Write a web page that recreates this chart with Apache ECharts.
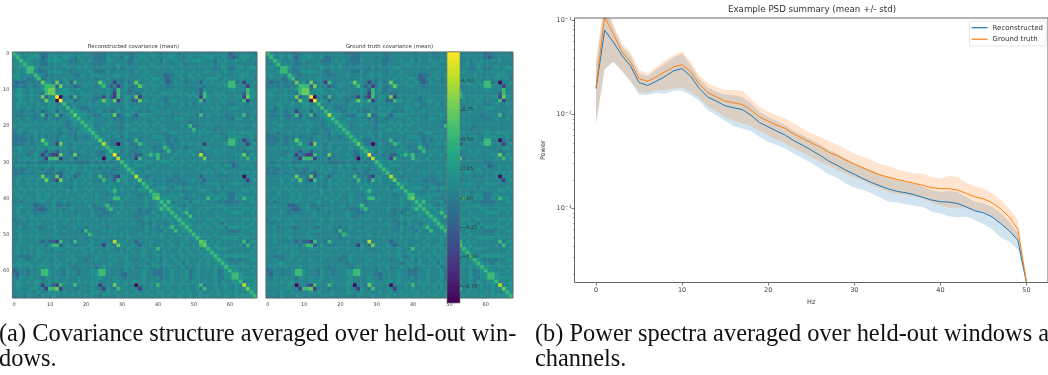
<!DOCTYPE html>
<html>
<head>
<meta charset="utf-8">
<style>
  html, body { margin: 0; padding: 0; background: #fff; overflow: hidden; }
  #chart { width: 1048px; height: 375px; }
</style>
<script src="https://cdn.jsdelivr.net/npm/echarts@6/dist/echarts.min.js"></script>
</head>
<body>
<div id="chart"></div>
<script>
// covariance cells: lower triangle, one digit per cell (index into levelValues)
const levelValues = [-0.85, -0.5, -0.22, -0.05, 0.07, 0.19, 0.55, 0.75, 1.0, 1.22];

const reconRows = [
  "6", "56", "456", "5456", "45556", "454566", "5544546", "45443356",
  "32334343 7", "33434434 56", "45544544 567", "45544544 3677",
  "45544544 72459", "44544544 375509", "45454445 4455 446", "45445444 5455 4546",
  "44344344 244525 446", "43344434 624462 4557", "45445434 435434 44556", "44544454 444545 434556",
  "54455444 454454 4345456", "44544544 544544 54344556", "34434454 444443 444354556", "33344353 534434 5443443456",
  "33334344 754435 445 3 444445 7", "33344344 564417 4435 444544 58",
  "45544545 445555 5445 445445 456", "44544344 424424 4434 454444 3356",
  "54443454 142117 4437 344454 33559", "44455454 416661 4452 444445 405538",
  "43443443 334434 4343 333343 4343446", "45454454 555455 5545 445455 45454456",
  "34334444 343354 4545 445444 344434456", "33344344 433432 4454 344544 4343444456",
  "44544544 744372 4542 454544 6434215544 8", "45445445 474317 4435 445444 36442645445 7",
  "4544545445 4545444545 4544454544 4544 446", "4454454544 5445443544 5454445454 5445 3456",
  "5445445454 4544454544 4544444564 5444 45546", "4545444545 5445454454 5445443454 4454 434456",
  "4454544545 4454445445 4445444466 4544 4445467", "3434444454 4544544454 5445444344 5444 44454456",
  "4454442334 4533434444 4534456444 5444 444544556", "4544443223 4544345444 4443335644 5445 4344345656",
  "4544543434 4545444344 4454433445 4544 43434544556", "4454454454 5445444454 4454344454 5444 344544545456",
  "3445445444 4544454454 4445444544 4544 4345454445456", "4344454544 4444544454 5444454444 5445 44343544345456",
  "4453444334 4544344544 3445443454 4444 4435443545 6 4556", "4544445444 4454544443 6444454544 4544 44454443544 64556",
  "4454454544 4544344444 3654444454 5444 45444545444454456", "4454445444 4454444344 3444454444 4454 444544454454445456",
  "4454444424 2216443644 4454444384 4544 2444544445444454457", "4544454453 5662454344 4544415437 5445 42445445445445445467",
  "4544454544 4455444545 4454445443 4454 445444 6 44544545445456", "4545444554 4444454444 5444544444 5445 4454454454445445445456",
  "4433344544 4544445444 4345444544 4544 44543454445445445445456", "4454345445 4454454544 3445444454 4544 344544535445445444545456",
  "4545544454 4545444444 4434444544 4454 4443454454445354454454456", "4454454545 4454444344 4443454444 4545 34454453454445344544545456",
  "2344344466 5444354434 4455664444 3544 445443334454445345444453456", "3244344466 5444354434 4455664444 3244 4454433344544453454444534556",
  "4354454435 4454454454 4445544454 4344 44544453445444534544445435566", "4544545544 5454544454 5455444455 4545 545445445454454454454453544556",
  "4554445414 4216444644 4454144374 4544 044454644544545445 6 34454454454 8", "4544455441 6671444344 4454315436 5445 414454544544545445 36 4454454454 57",
  "4444544544 5454544454 4455445454 4544 544544554454454544544545445454456", "3443544354 4544445444 5444354445 4445 4544544545445445445454454544555556"
];

const truthRows = [
  "6", "56", "446", "4456", "45446", "444566", "4544546", "34443356",
  "32334343 7", "34434434 46", "44544544 567", "45444544 3677",
  "45444544 72359", "44444544 375409", "44454445 4455 446", "45345444 4455 4546",
  "43344344 144525 446", "43344334 624462 4558", "44445434 435434 44556", "44544444 444544 434556",
  "44455444 454454 4345456", "44544444 544544 44344556", "34434454 444443 444354556", "33344343 534434 5443443456",
  "33334344 754435 445 3 444445 6", "33344344 564417 4435 444444 57",
  "44544545 445555 5445 445445 456", "44444344 424424 4434 454444 3356",
  "44443454 142116 4437 344454 33559", "44445454 416661 4452 444445 404538",
  "43443443 334434 4343 333343 4343446", "44454454 555455 4545 445455 45454456",
  "34334444 343354 4545 445444 344434456", "33344344 433432 4454 344544 4343444456",
  "44444544 744372 4542 454544 6434215544 8", "44445445 474316 4435 445444 36442645445 7",
  "4444545445 4445444545 4544454544 4544 446", "4454454544 4445443544 5454445454 4445 3456",
  "4445445454 4444454544 4544444564 4444 45546", "4445444545 4445454454 5445443454 4454 434456",
  "4454444545 4454445445 4445444466 4544 4445467", "3434444454 4444544454 4445444344 5444 44454456",
  "4454442234 4533434444 4534456444 4444 444544556", "4444443223 4544345444 4443335644 4445 4344345656",
  "4444543434 4445444344 4454433445 4444 43434544556", "4454444454 4445444454 4454344454 4444 344544545456",
  "3445445444 4444454454 4445444544 4544 4345454445456", "4344454544 4444544444 4444454444 4445 44343544345456",
  "4453444334 4444344544 3445443454 4444 4435443545 6 4456", "4444445444 4454544443 6444454544 4544 44454443544 64456",
  "4454454444 4544344444 3654444454 4444 45444545444454456", "4454445444 4454444344 3444454444 4454 444544454454445456",
  "4454444424 2216443644 4454444384 4444 2444544445444454457", "4444454453 5662454344 4444415437 4445 42445445445445445467",
  "4444454544 4455444545 4454445443 4454 445444 6 44544545445456", "4445444554 4444454444 4444544444 4445 4454454454445445445456",
  "4433344544 4444445444 4345444544 4544 44543454445445445445456", "4454345445 4454454444 3445444454 4444 344544535445445444545456",
  "4445544454 4445444444 4434444544 4454 4443454454445354454454456", "4454454445 4454444344 4443454444 4445 34454453454445344544545456",
  "2344344466 5444354434 4455664444 3544 445443334454445345444453456", "3244344466 5444354434 4455664444 3244 4454433344544453454444534556",
  "4354454435 4454454444 4445444454 4344 44544453445444534544445435566", "4444545544 4454544454 4455444455 4445 545445445454454454454453544556",
  "4454445404 4216444644 4454044374 4544 044454644544545445 6 34454454454 8", "4444455441 6671444344 4454315436 4445 414454544544545445 36 4454454454 47",
  "4444544544 4454544454 4455445454 4544 544544554454454544544545445454456", "3443544354 4444445444 4444354445 4445 4544544545445445445454454544555556"
];

// PSD curves, value per Hz
const hz = ["0","1","2","3","4","5","6","7","8","9","10","11","12","13","14","15","16","17","18","19","20","21","22","23","24","25","26","27","28","29","30","31","32","33","34","35","36","37","38","39","40","41","42","43","44","45","46","47","48","49","50"].map(Number);
const reconMean = [0.0189,0.0789,0.0593,0.0427,0.033,0.0219,0.0204,0.0226,0.0254,0.0292,0.0308,0.0256,0.0189,0.0153,0.0139,0.0124,0.0118,0.0113,0.00984,0.00822,0.0074,0.00665,0.00603,0.00525,0.00472,0.00418,0.00369,0.00321,0.00289,0.00256,0.00232,0.00208,0.00189,0.00174,0.00161,0.00152,0.00147,0.0014,0.00131,0.00123,0.00118,0.00117,0.00113,0.00104,0.000944,0.0009,0.000815,0.000692,0.000578,0.00046,0.000162];
const truthMean = [0.0195,0.109,0.0727,0.0465,0.0363,0.0241,0.0226,0.0251,0.0285,0.0321,0.034,0.0285,0.021,0.0171,0.0154,0.0139,0.0133,0.0128,0.0111,0.00944,0.00849,0.00771,0.0071,0.00618,0.00556,0.005,0.00453,0.00398,0.00366,0.00327,0.00297,0.00271,0.00246,0.00228,0.00215,0.00204,0.00194,0.00185,0.00176,0.00166,0.00163,0.00162,0.00157,0.00145,0.00133,0.00127,0.00115,0.00099,0.000815,0.000598,0.000165];
const reconLow = [0.00789,0.0303,0.0363,0.0289,0.0223,0.0163,0.0161,0.017,0.0167,0.0179,0.0179,0.0161,0.0139,0.0111,0.00984,0.00857,0.00752,0.0071,0.0067,0.00578,0.00512,0.00472,0.00435,0.00385,0.0034,0.00306,0.00267,0.00232,0.00212,0.00185,0.00167,0.00157,0.00145,0.00131,0.00118,0.00116,0.0011,0.00107,0.00103,0.000923,0.000885,0.000828,0.000802,0.000815,0.000752,0.000681,0.000603,0.000491,0.000442,0.000366,0.00016];
const reconHigh = [0.0349,0.15,0.0857,0.0537,0.0427,0.0273,0.0256,0.0301,0.0349,0.0404,0.0446,0.0335,0.0241,0.0194,0.0174,0.0163,0.0161,0.0154,0.0131,0.0107,0.00944,0.00857,0.00771,0.0067,0.00603,0.00542,0.00483,0.00425,0.00385,0.0034,0.00301,0.00277,0.00256,0.00232,0.00214,0.002,0.00194,0.00182,0.0017,0.00157,0.0015,0.00154,0.0015,0.00133,0.00118,0.00113,0.00104,0.0009,0.000721,0.000551,0.000165];
const truthLow = [0.0081,0.0303,0.0369,0.0296,0.0232,0.0174,0.0171,0.0182,0.0182,0.0189,0.0194,0.0174,0.0152,0.0121,0.0109,0.00944,0.00857,0.00802,0.00752,0.0067,0.00603,0.00533,0.00491,0.00435,0.00394,0.00355,0.00313,0.00289,0.00256,0.00236,0.00214,0.00197,0.00177,0.00163,0.0015,0.00142,0.00139,0.00133,0.00128,0.00115,0.00108,0.00102,0.00102,0.001,0.00096,0.000923,0.000815,0.000692,0.000589,0.00046,0.00016];
const truthHigh = [0.0379,0.17,0.0929,0.0569,0.0465,0.0296,0.0273,0.0321,0.0379,0.0427,0.0472,0.0363,0.0262,0.0214,0.0197,0.0182,0.0182,0.0179,0.0148,0.0121,0.0108,0.00984,0.00906,0.00802,0.0071,0.00638,0.00578,0.00525,0.0048,0.00428,0.00385,0.00355,0.00327,0.00297,0.00282,0.0026,0.00246,0.00236,0.00236,0.00217,0.00208,0.00223,0.00217,0.00187,0.00173,0.00163,0.00145,0.00123,0.001,0.000752,0.00017];

const viridis = ["#440154","#482475","#414487","#355f8d","#2a788e","#21918c","#22a884","#44bf70","#7ad151","#bddf26","#fde725"];
const colorbarTicks = [-0.75, -0.5, -0.25, 0, 0.25, 0.5, 0.75, 1];
const hzTicks = [0, 10, 20, 30, 40, 50];
const powerTicks = [0.001, 0.01, 0.1];
const powerMinorTicks = [0.0002,0.0003,0.0004,0.0005,0.0006,0.0007,0.0008,0.0009,0.002,0.003,0.004,0.005,0.006,0.007,0.008,0.009,0.02,0.03,0.04,0.05,0.06,0.07,0.08,0.09];

const CBAR_MIN = -0.89;
const CBAR_MAX = 1.244;
const channels = Array.from({ length: 68 }, (_, i) => String(i));

// the matrix is symmetric, so the upper half mirrors the rows above
const toCells = (rows) => {
  const digits = rows.map((row) => row.replace(/ /g, ""));
  const level = (r, c) => Number((r >= c ? digits[r][c] : digits[c][r]) || 4);
  const cells = [];
  channels.forEach((_, r) => {
    channels.forEach((_, c) => cells.push([c, r, levelValues[level(r, c)]]));
  });
  return cells;
};

const everyTen = (index) => index % 10 === 0;

const heatmapXAxis = (gridIndex) => ({
  type: "category",
  gridIndex,
  data: channels,
  position: "bottom",
  axisLine: { show: false },
  axisTick: { length: 2, alignWithLabel: true, interval: everyTen, lineStyle: { color: "#444", width: 0.6 } },
  axisLabel: { interval: everyTen, fontSize: 5, color: "#444", margin: 4.5, hideOverlap: false },
  splitLine: { show: false },
});

const heatmapYAxis = (gridIndex, showLabel) => ({
  type: "category",
  gridIndex,
  data: channels,
  inverse: true,
  axisLine: { show: false },
  axisTick: { length: 2, alignWithLabel: true, interval: everyTen, lineStyle: { color: "#444", width: 0.6 } },
  axisLabel: { show: showLabel, interval: everyTen, fontSize: 5, color: "#444", margin: 3, hideOverlap: false },
  splitLine: { show: false },
});

const bandSeries = (name, low, high, color) => ({
  name,
  type: "custom",
  xAxisIndex: 3,
  yAxisIndex: 3,
  z: 3,
  silent: true,
  data: hz.map((x, i) => [x, low[i], high[i]]),
  encode: { x: 0, y: [1, 2] },
  renderItem: (params, api) => {
    if (params.dataIndex !== 0) return null;
    const top = hz.map((x, i) => api.coord([x, high[i]]));
    const bottom = hz.map((x, i) => api.coord([x, low[i]])).reverse();
    const box = params.coordSys;
    return {
      type: "polygon",
      shape: { points: top.concat(bottom) },
      style: { fill: color, opacity: 0.2 },
      clipPath: { type: "rect", shape: { x: box.x, y: box.y, width: box.width, height: box.height } },
    };
  },
});

const captionStyle = { fontSize: 24.4, fontWeight: "normal", fontFamily: "Liberation Serif", color: "#111" };
const smallTitle = { fontSize: 5.4, fontWeight: "normal", color: "#333" };

const chart = echarts.init(document.getElementById("chart"));

chart.setOption({
  animation: false,
  backgroundColor: "#fff",
  textStyle: { fontFamily: "DejaVu Sans" },
  title: [
    { text: "Reconstructed covariance (mean)", left: 133.5, top: 44.5, padding: 0, textAlign: "center", textStyle: smallTitle },
    { text: "Ground truth covariance (mean)", left: 389.5, top: 44.5, padding: 0, textAlign: "center", textStyle: smallTitle },
    { text: "Example PSD summary (mean +/- std)", left: 812, top: 5.5, padding: 0, textAlign: "center", textStyle: { fontSize: 8.7, fontWeight: "normal", color: "#333" } },
    { text: "(a) Covariance structure averaged over held-out win-", left: -1, top: 323, padding: 0, textStyle: captionStyle },
    { text: "dows.", left: -1, top: 348, padding: 0, textStyle: captionStyle },
    { text: "(b) Power spectra averaged over held-out windows and", left: 535, top: 323, padding: 0, textStyle: captionStyle },
    { text: "channels.", left: 535, top: 348, padding: 0, textStyle: captionStyle },
  ],
  grid: [
    { left: 10, top: 52, width: 247, height: 246, show: true, z: 5, borderColor: "#666", borderWidth: 0.8, backgroundColor: "transparent" },
    { left: 266, top: 52, width: 247, height: 246, show: true, z: 5, borderColor: "#666", borderWidth: 0.8, backgroundColor: "transparent" },
    { left: 447, top: 52, width: 13, height: 251, show: true, z: 8, borderColor: "#777", borderWidth: 0.6, backgroundColor: "transparent" },
    { left: 574.5, top: 18, width: 474.3, height: 264.5, show: true, z: 5, borderColor: "#666", borderWidth: 1, backgroundColor: "transparent" },
  ],
  xAxis: [
    heatmapXAxis(0),
    heatmapXAxis(1),
    { type: "value", gridIndex: 2, min: 0, max: 1, show: false },
    {
      type: "value",
      gridIndex: 3,
      min: -2.5,
      max: 52.5,
      name: "Hz",
      nameLocation: "middle",
      nameGap: 16,
      nameTextStyle: { fontSize: 6.5, color: "#333" },
      axisLine: { show: false, onZero: false },
      axisTick: { length: 3, customValues: hzTicks, lineStyle: { color: "#444", width: 0.7 } },
      axisLabel: { customValues: hzTicks, fontSize: 6.5, color: "#444", margin: 4.5 },
      splitLine: { show: false },
    },
    { type: "value", gridIndex: 3, min: -2.5, max: 52.5, show: false },
  ],
  yAxis: [
    heatmapYAxis(0, true),
    heatmapYAxis(1, false),
    {
      type: "value",
      gridIndex: 2,
      min: CBAR_MIN,
      max: CBAR_MAX,
      position: "right",
      z: 12,
      axisLine: { show: false, onZero: false },
      axisTick: { length: 2, customValues: colorbarTicks, lineStyle: { color: "#333", width: 0.6 } },
      axisLabel: {
        customValues: colorbarTicks,
        fontSize: 5,
        color: "#333",
        margin: 2,
        formatter: (v) => (v < 0 ? "\u2212" : "") + Math.abs(v).toFixed(2),
      },
      splitLine: { show: false },
    },
    {
      type: "log",
      gridIndex: 3,
      logBase: 10,
      min: 0.000163,
      max: 0.1066,
      name: "Power",
      nameLocation: "middle",
      nameGap: 28,
      nameTextStyle: { fontSize: 6.5, color: "#333" },
      axisLine: { show: false, onZero: false },
      axisTick: { length: 3, customValues: powerTicks, lineStyle: { color: "#444", width: 0.7 } },
      axisLabel: {
        customValues: powerTicks,
        fontSize: 6.5,
        color: "#444",
        margin: 3,
        formatter: (v) => "{b|10}{s|\u2212" + Math.round(-Math.log10(v)) + "}",
        rich: {
          b: { fontSize: 6.5, color: "#444" },
          s: { fontSize: 4.5, color: "#444", padding: [0, 0, 4, 0] },
        },
      },
      splitLine: { show: false },
    },
    {
      type: "log",
      gridIndex: 3,
      logBase: 10,
      min: 0.000163,
      max: 0.1066,
      position: "left",
      axisLine: { show: false, onZero: false },
      axisTick: { length: 1.5, customValues: powerMinorTicks, lineStyle: { color: "#444", width: 0.5 } },
      axisLabel: { show: false },
      splitLine: { show: false },
    },
  ],
  visualMap: {
    show: false,
    seriesIndex: [0, 1],
    dimension: 2,
    min: CBAR_MIN,
    max: CBAR_MAX,
    inRange: { color: viridis },
  },
  legend: {
    data: ["Reconstructed", "Ground truth"],
    orient: "vertical",
    right: 2,
    top: 21,
    padding: [3, 3, 3, 2],
    itemGap: 4,
    icon: "rect",
    itemWidth: 16,
    itemHeight: 1.2,
    borderColor: "#ddd",
    borderWidth: 0.7,
    borderRadius: 2,
    backgroundColor: "#fff",
    textStyle: { fontSize: 7, color: "#333", lineHeight: 7.5 },
  },
  series: [
    {
      name: "Reconstructed covariance",
      type: "heatmap",
      xAxisIndex: 0,
      yAxisIndex: 0,
      data: toCells(reconRows),
      progressive: 0,
      z: 2,
    },
    {
      name: "Ground truth covariance",
      type: "heatmap",
      xAxisIndex: 1,
      yAxisIndex: 1,
      data: toCells(truthRows),
      progressive: 0,
      z: 2,
    },
    {
      name: "Colorbar",
      type: "custom",
      xAxisIndex: 2,
      yAxisIndex: 2,
      z: 7,
      silent: true,
      data: [[0, CBAR_MIN, CBAR_MAX]],
      renderItem: (params, api) => {
        const topLeft = api.coord([0, CBAR_MAX]);
        const bottomRight = api.coord([1, CBAR_MIN]);
        return {
          type: "rect",
          shape: { x: topLeft[0], y: topLeft[1], width: bottomRight[0] - topLeft[0], height: bottomRight[1] - topLeft[1] },
          style: {
            fill: new echarts.graphic.LinearGradient(0, 1, 0, 0, viridis.map((color, i) => ({ offset: i / (viridis.length - 1), color }))),
          },
        };
      },
    },
    bandSeries("Reconstructed band", reconLow, reconHigh, "#1f77b4"),
    {
      name: "Reconstructed",
      type: "line",
      xAxisIndex: 3,
      yAxisIndex: 3,
      data: hz.map((x, i) => [x, reconMean[i]]),
      showSymbol: false,
      symbol: "none",
      z: 4,
      itemStyle: { color: "#1f77b4" },
      lineStyle: { color: "#1f77b4", width: 1 },
    },
    bandSeries("Ground truth band", truthLow, truthHigh, "#ff7f0e"),
    {
      name: "Ground truth",
      type: "line",
      xAxisIndex: 3,
      yAxisIndex: 3,
      data: hz.map((x, i) => [x, truthMean[i]]),
      showSymbol: false,
      symbol: "none",
      z: 4,
      itemStyle: { color: "#ff7f0e" },
      lineStyle: { color: "#ff7f0e", width: 1 },
    },
  ],
});
</script>
</body>
</html>
